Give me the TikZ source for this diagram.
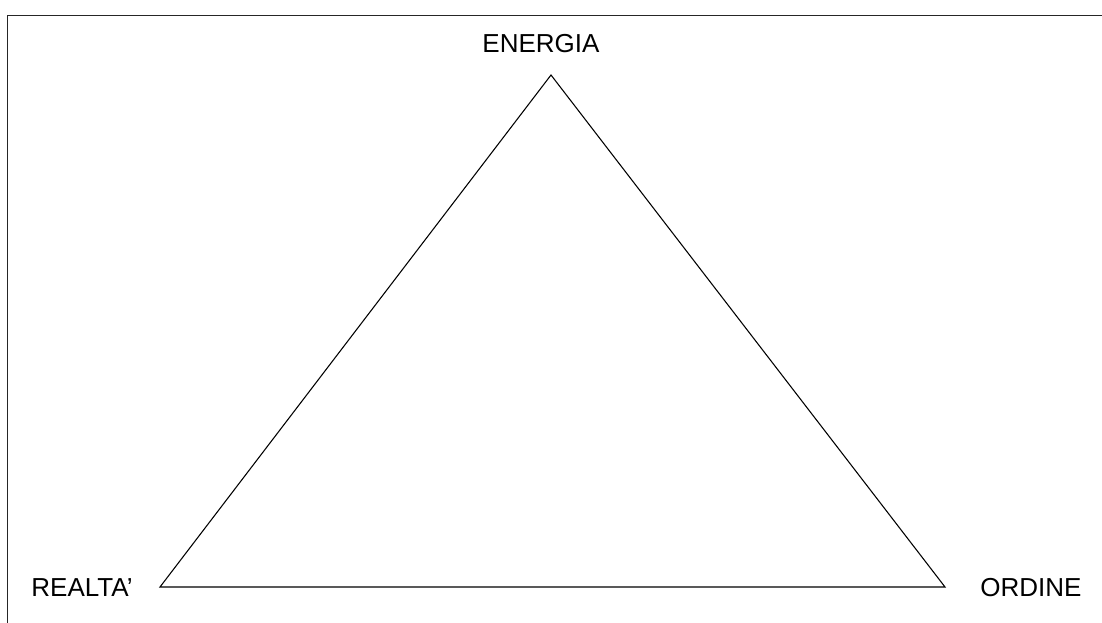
\documentclass[tikz,border=0pt]{standalone}
\usepackage{fontspec}
\setmainfont{Liberation Sans}
\begin{document}
\begin{tikzpicture}[x=0.75pt,y=-0.75pt,
  lbl/.style={font=\fontsize{19.5}{23}\selectfont, anchor=base, inner sep=0pt},
  edge/.style={line width=0.8pt, line join=miter}]
\useasboundingbox (0,0) rectangle (1102,623);
\fill[white] (0,0) rectangle (1102,623);
\draw[line width=1.3pt, black!85] (7.5,640) -- (7.5,15.5) -- (1120,15.5);
\coordinate (E) at (551,75);
\coordinate (R) at (160,587);
\coordinate (O) at (945,587);
\draw[edge] (E) -- (R) -- (O) -- cycle;
\node[lbl] (tE) at (541,53) {ENERGIA};
\node[lbl] (tR) at (82,596) {REALTA'};
\node[lbl] (tO) at (1031,596) {ORDINE};
\end{tikzpicture}
\end{document}
